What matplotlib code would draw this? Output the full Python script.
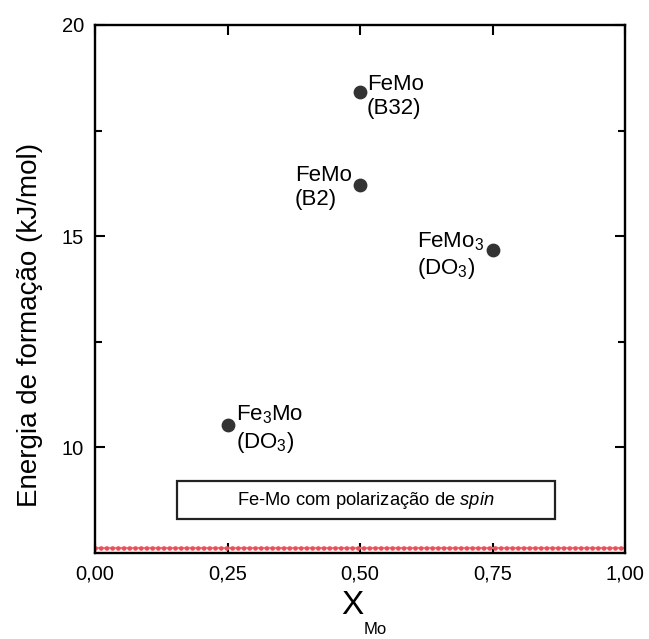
import matplotlib.pyplot as plt
from matplotlib.patches import Rectangle
from matplotlib.ticker import FixedLocator, FuncFormatter

plt.rcParams['font.family'] = ['Liberation Sans', 'DejaVu Sans']
plt.rcParams['mathtext.fontset'] = 'custom'
plt.rcParams['mathtext.rm'] = 'Liberation Sans'
plt.rcParams['mathtext.it'] = 'Liberation Sans:italic'

# compostos Fe-Mo
x_mo = [0.25, 0.50, 0.50, 0.75]
energia = [10.53, 16.21, 18.41, 14.67]
rotulos = ['Fe$_3$Mo\n(DO$_3$)', 'FeMo\n(B2)', 'FeMo\n(B32)', 'FeMo$_3$\n(DO$_3$)']

# linha de referencia (vermelha pontilhada)
ref_x = [0.0, 1.0]
ref_y = [7.62, 7.62]

fig = plt.figure(figsize=(6.49, 6.39), dpi=100)
ax = fig.add_axes([95 / 649, 1 - 553 / 639, (625 - 95) / 649, (553 - 25) / 639])

ax.plot(ref_x, ref_y, color='#ee7a80', lw=1.6, zorder=2, solid_capstyle='butt')
ax.plot(ref_x, ref_y, color='#e8505b', lw=3.4, ls=(0, (0.01, 1.2)),
        dash_capstyle='round', zorder=2)
ax.scatter(x_mo, energia, s=80, color='#333333', zorder=3)

# posicao dos rotulos relativa ao ponto
offsets = [(6, -3, 'left'), (-6, -2, 'right'), (5, -3, 'left'), (-6, -4, 'right')]
for xi, yi, lab, (dx, dy, ha) in zip(x_mo, energia, rotulos, offsets):
    ax.annotate(lab, (xi, yi), xytext=(dx, dy), textcoords='offset points',
                ha=ha, va='center', multialignment='left', fontsize=16,
                linespacing=1.2)

# caixa de legenda
ax.add_patch(Rectangle((0.154, 8.30), 0.713, 0.90, fc='white', ec='#222222',
                       lw=1.6, zorder=2))
ax.text(0.51, 8.75, 'Fe-Mo com polarização de $\\it{spin}$', fontsize=13.2,
        ha='center', va='center', zorder=3)

ax.set_xlim(0, 1)
ax.set_ylim(7.5, 20)
ax.xaxis.set_major_locator(FixedLocator([0, 0.25, 0.5, 0.75, 1.0]))
ax.yaxis.set_major_locator(FixedLocator([10, 15, 20]))
ax.yaxis.set_minor_locator(FixedLocator([12.5, 17.5]))
ax.xaxis.set_major_formatter(FuncFormatter(lambda v, p: f'{v:.2f}'.replace('.', ',')))
ax.tick_params(which='both', direction='in', top=True, right=True, labelsize=14.5, width=1.5)
ax.tick_params(which='major', length=7, pad=8)
ax.tick_params(which='minor', length=5)
for s in ax.spines.values():
    s.set_linewidth(1.7)

fig.text(30 / 649, 1 - 325 / 639, 'Energia de formação (kJ/mol)', fontsize=20,
         rotation=90, ha='center', va='center')
fig.text(352 / 649, 1 - 606 / 639, 'X', fontsize=24, ha='center', va='center')
fig.text(364 / 649, 1 - 629 / 639, 'Mo', fontsize=12, ha='left', va='center')

fig.savefig('out.png', dpi=100)
